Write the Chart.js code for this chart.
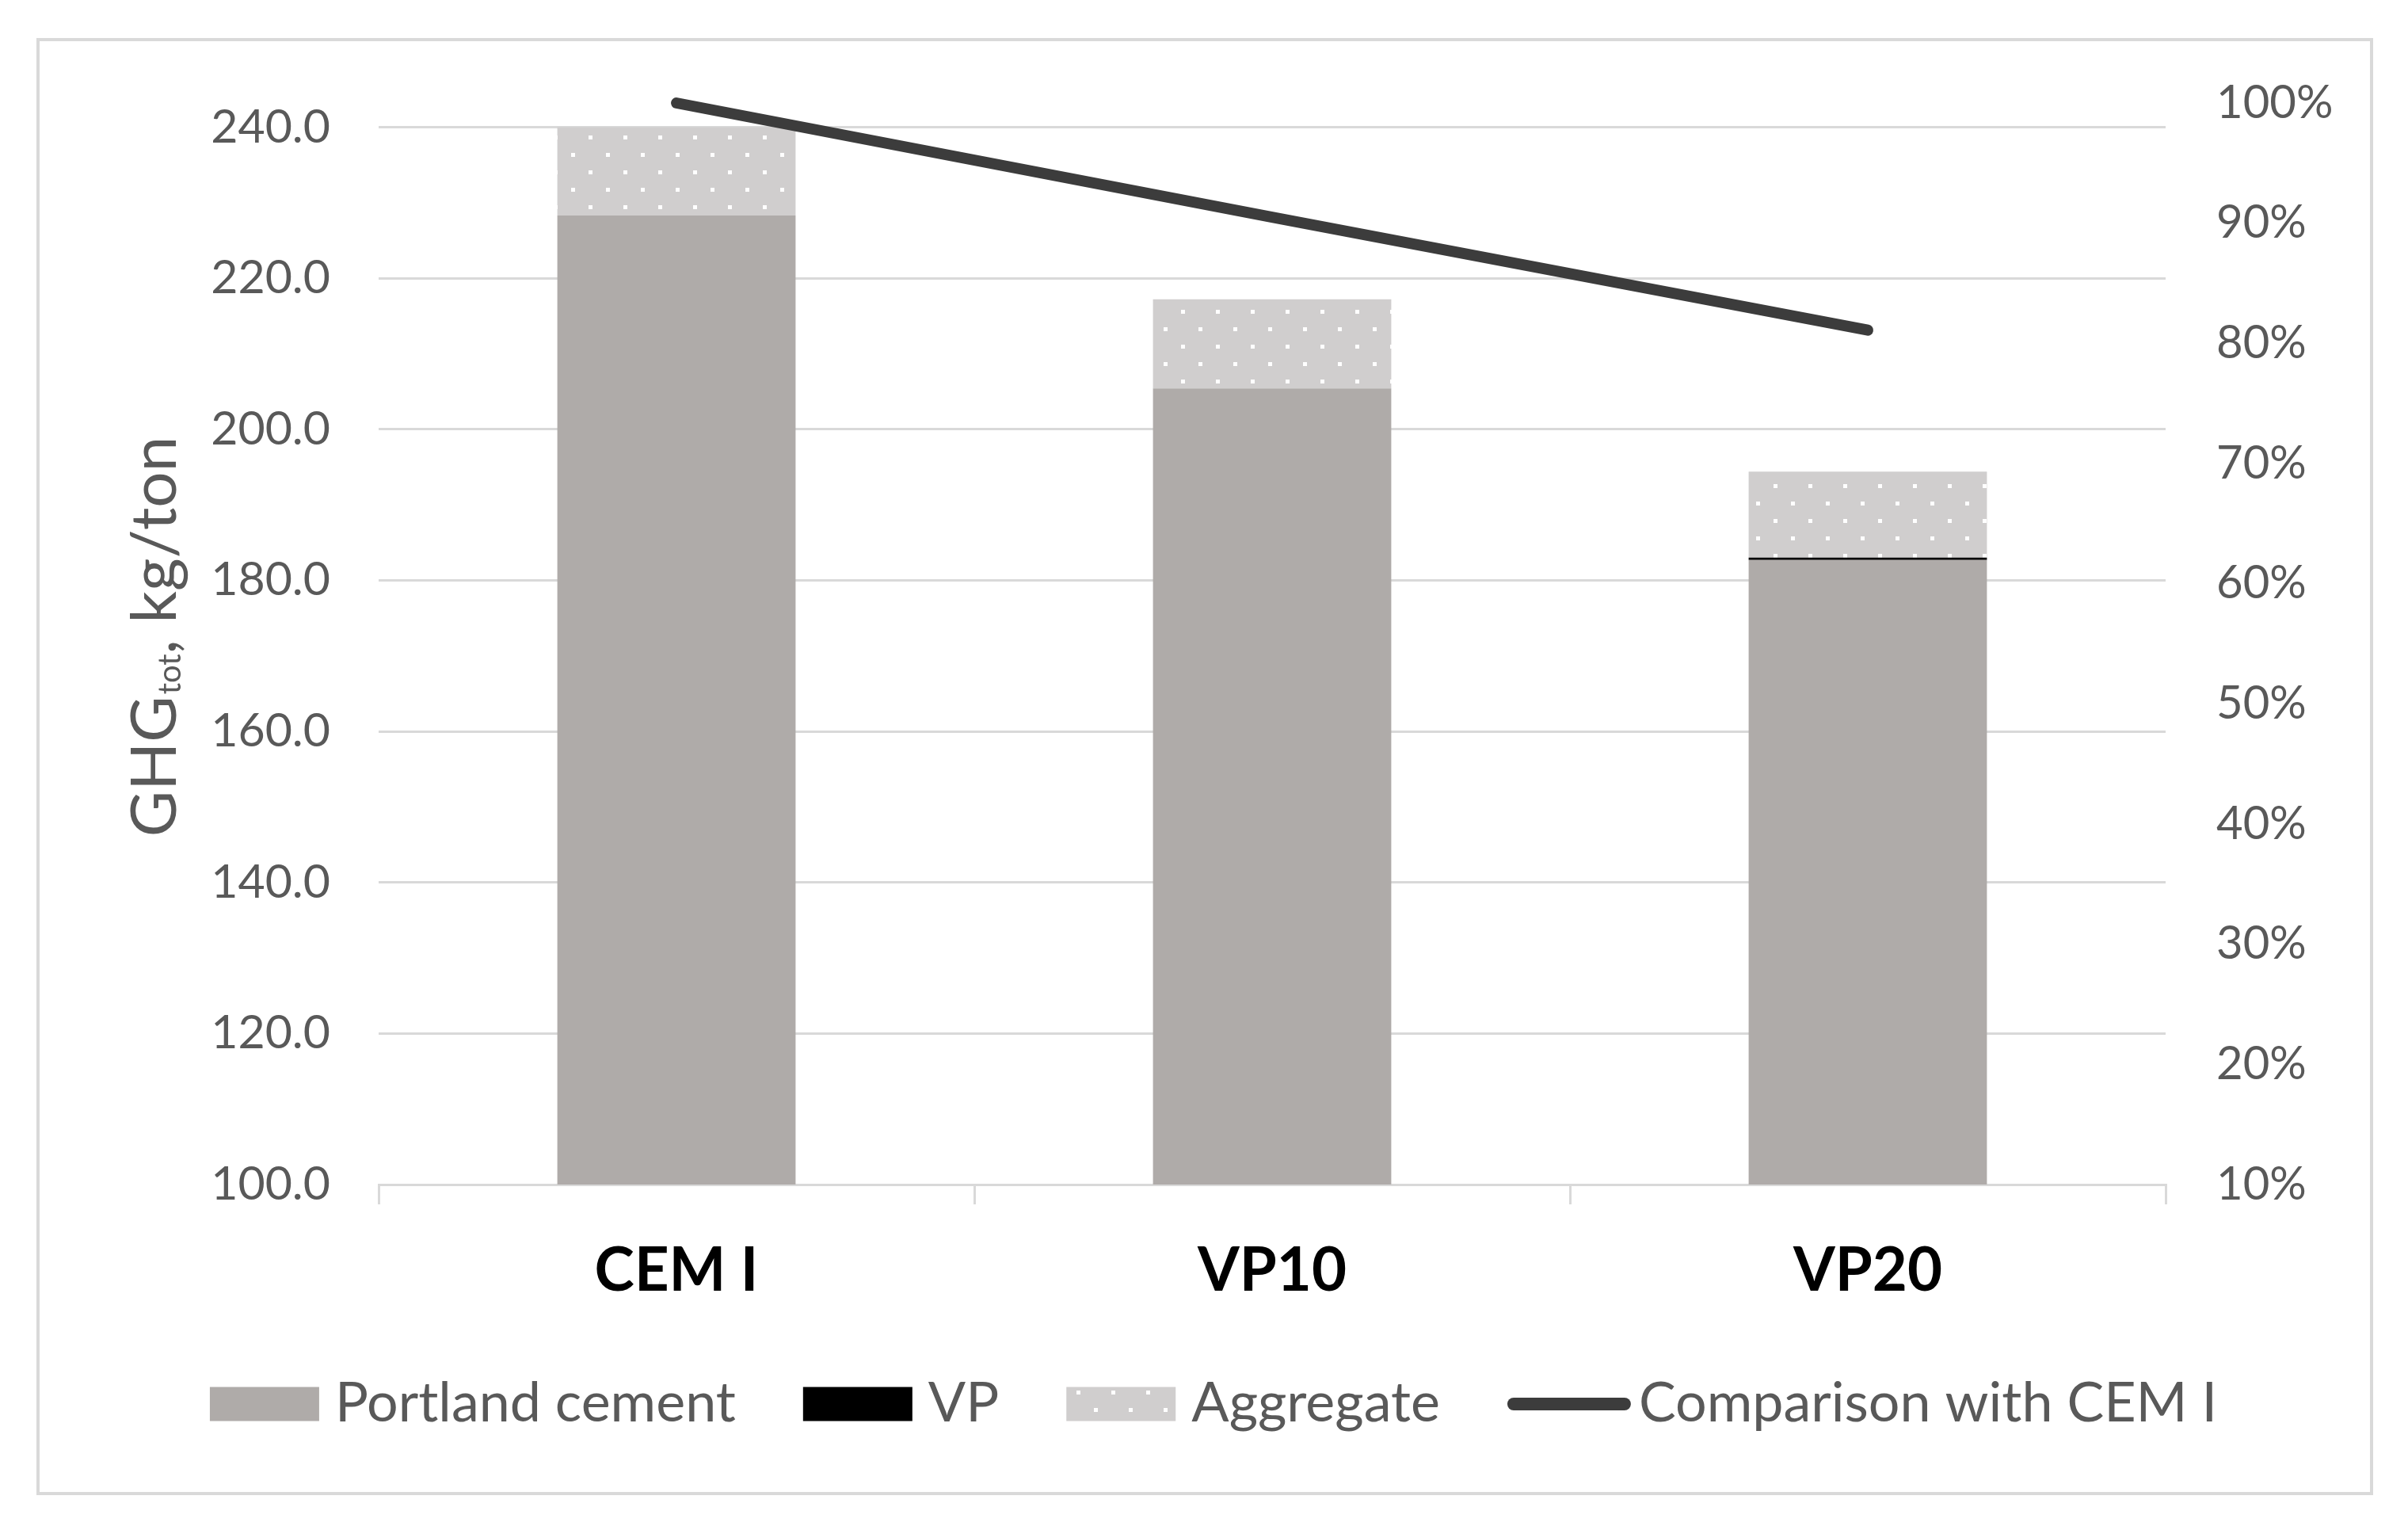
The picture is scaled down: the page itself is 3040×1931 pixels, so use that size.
<!DOCTYPE html>
<html lang="en">

<head>
  <meta charset="UTF-8">
  <title>GHG tot</title>
  <style>
    body { margin: 0; background: #fff; }
  </style>
</head>

<body>
  <canvas id="grafico" width="3040" height="1931"></canvas>

  <script src="https://cdn.jsdelivr.net/npm/chart.js"></script>

  <script>
    // data
    const categories = ['CEM I', 'VP10', 'VP20'];
    const portland = [228.3, 205.4, 182.7];
    const vp = [0, 0, 0.3];
    const aggregate = [11.7, 11.8, 11.4];
    const comparison = [100, 90.5, 81.1];   // % of CEM I

    const seriesNames = ['Portland cement', 'VP', 'Aggregate', 'Comparison with CEM I'];
    const yTitle = ['GHG', 'tot', ', kg/ton'];

    // axes
    const yMin = 100, yMax = 243.2, yStep = 20;
    const y2Min = 10, y2Max = 100, y2Step = 10;

    const gray = '#595959';
    const gridGray = '#d9d9d9';

    // dotted fill for the aggregate layer
    function dots() {
      const c = document.createElement('canvas');
      c.width = 44; c.height = 44;
      const g = c.getContext('2d');
      g.fillStyle = '#d0cece';
      g.fillRect(0, 0, 44, 44);
      g.fillStyle = '#ffffff';
      g.fillRect(17, 17, 5, 5);
      g.fillRect(39, 39, 5, 5);
      return g.createPattern(c, 'repeat');
    }

    const fundo = {
      id: 'fundo',
      beforeDraw(chart) {
        const ctx = chart.ctx;
        ctx.save();
        ctx.fillStyle = '#fff';
        ctx.fillRect(0, 0, chart.width, chart.height);
        ctx.strokeStyle = gridGray;
        ctx.lineWidth = 4;
        ctx.strokeRect(48, 50, 2946, 1835);
        ctx.restore();
      }
    };

    const tituloY = {
      id: 'tituloY',
      afterDraw(chart) {
        const ctx = chart.ctx;
        const a = chart.chartArea;
        ctx.save();
        ctx.fillStyle = gray;
        ctx.textBaseline = 'alphabetic';
        const big = '80px Lato', small = '40px Lato';
        ctx.font = big;
        const w0 = ctx.measureText(yTitle[0]).width;
        const w2 = ctx.measureText(yTitle[2]).width;
        ctx.font = small;
        const w1 = ctx.measureText(yTitle[1]).width;
        const total = w0 + w1 + w2;
        ctx.translate(222, (a.top + a.bottom) / 2 - 8);
        ctx.rotate(-Math.PI / 2);
        let x = -total / 2;
        ctx.font = big;
        ctx.fillText(yTitle[0], x, 0);
        x += w0 + 2;
        ctx.font = small;
        ctx.fillText(yTitle[1], x, 6);
        x += w1;
        ctx.font = big;
        ctx.fillText(yTitle[2], x, 0);
        ctx.restore();
      }
    };

    const legenda = {
      id: 'legenda',
      afterDraw(chart) {
        const ctx = chart.ctx;
        const sets = chart.data.datasets;
        const boxW = 138, boxH = 43, lineLen = 140, itemGap = 85;
        ctx.save();
        ctx.font = '70px Lato';
        const widths = sets.map(d => (d.type === 'line' ? lineLen + 16 + 10 : boxW + 20) + ctx.measureText(d.label).width);
        const total = widths.reduce((s, w) => s + w, 0) + itemGap * (sets.length - 1);
        let x = chart.width / 2 + 12 - total / 2;
        const y = chart.chartArea.bottom + 277;
        sets.forEach((d, i) => {
          let tx;
          if (d.type === 'line') {
            ctx.strokeStyle = d.borderColor;
            ctx.lineWidth = 16;
            ctx.lineCap = 'round';
            ctx.beginPath();
            ctx.moveTo(x + 8, y);
            ctx.lineTo(x + 8 + lineLen, y);
            ctx.stroke();
            tx = x + lineLen + 16 + 10;
          } else {
            ctx.fillStyle = d.backgroundColor;
            ctx.fillRect(x, y - boxH / 2, boxW, boxH);
            tx = x + boxW + 20;
          }
          ctx.fillStyle = gray;
          ctx.textBaseline = 'middle';
          ctx.textAlign = 'left';
          ctx.fillText(d.label, tx, y - 1);
          x += widths[i] + itemGap;
        });
        ctx.restore();
      }
    };

    function desenhar() {
      Chart.defaults.font.family = 'Lato';
      const ctx = document.getElementById('grafico');

      new Chart(ctx, {
        type: 'bar',
        data: {
          labels: categories,
          datasets: [
            { label: seriesNames[0], data: portland, backgroundColor: '#afaba9', order: 1 },
            { label: seriesNames[1], data: vp, backgroundColor: '#000000', order: 1 },
            { label: seriesNames[2], data: aggregate, backgroundColor: dots(), order: 1 },
            {
              label: seriesNames[3], data: comparison, type: 'line', yAxisID: 'y2', order: 0,
              borderColor: '#3c3c3c', borderWidth: 14, borderCapStyle: 'round', borderJoinStyle: 'round',
              pointRadius: 0, tension: 0, clip: false, fill: false
            }
          ]
        },
        options: {
          responsive: false,
          devicePixelRatio: 1,
          animation: false,
          barPercentage: 0.4,
          categoryPercentage: 1,
          layout: { padding: { top: 130, left: 0, right: 0, bottom: 0 } },
          plugins: {
            legend: { display: false },
            tooltip: { enabled: false }
          },
          scales: {
            x: {
              stacked: true,
              afterFit: s => { s.height = 436; },
              grid: { offset: true, drawOnChartArea: false, drawTicks: true, tickLength: 25, color: gridGray, lineWidth: 3 },
              border: { color: gridGray, width: 3 },
              ticks: { color: '#000', font: { size: 76, weight: 'bold' }, padding: 39, maxRotation: 0, autoSkip: false }
            },
            y: {
              stacked: true,
              min: yMin, max: yMax,
              afterFit: s => { s.width = 478; },
              grid: { color: gridGray, lineWidth: 3, drawTicks: false },
              border: { display: false },
              ticks: {
                stepSize: yStep, includeBounds: false, padding: 61, color: gray,
                font: { size: 59 }, callback: v => v.toFixed(1)
              }
            },
            y2: {
              position: 'right',
              min: y2Min, max: y2Max,
              afterFit: s => { s.width = 306; },
              grid: { drawOnChartArea: false, drawTicks: false },
              border: { display: false },
              ticks: { stepSize: y2Step, padding: 64, color: gray, font: { size: 58 }, callback: v => v + '%' }
            }
          }
        },
        plugins: [fundo, tituloY, legenda]
      });
    }

    Promise.all([
      document.fonts.load('59px Lato'),
      document.fonts.load('bold 76px Lato')
    ]).then(desenhar, desenhar);
  </script>
</body>

</html>
